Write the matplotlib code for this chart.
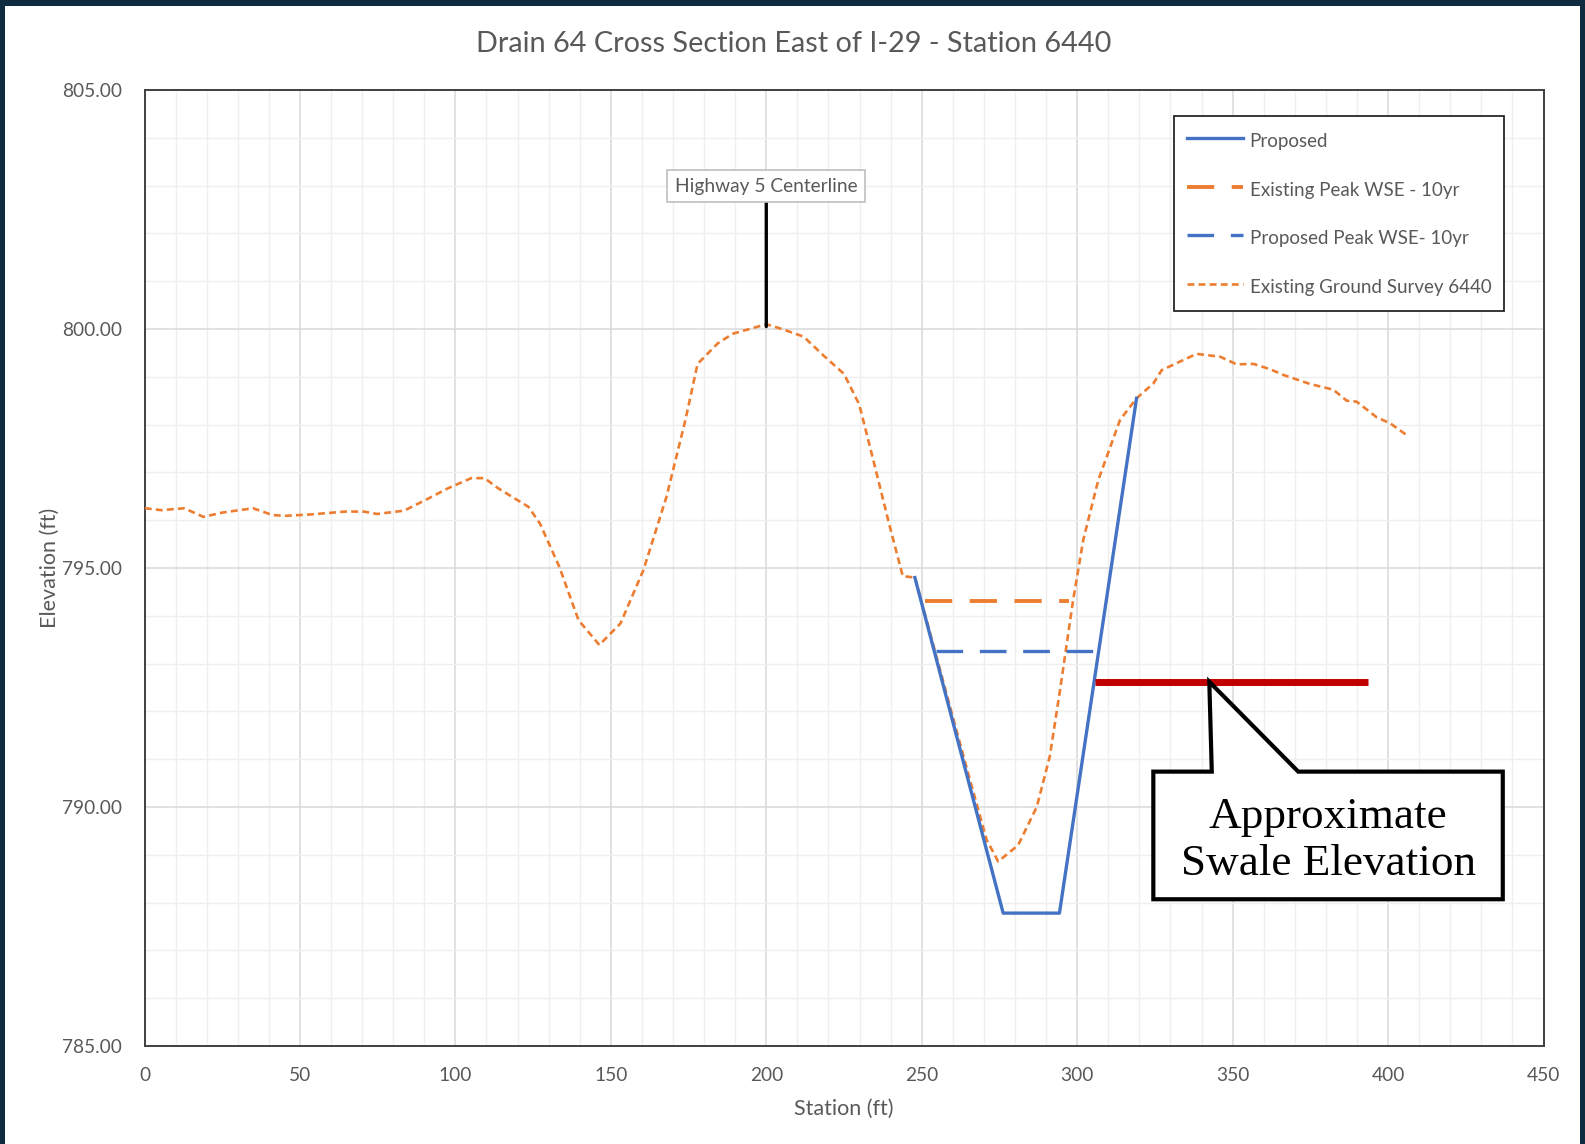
import matplotlib
matplotlib.use("Agg")
import matplotlib.pyplot as plt
from matplotlib.patches import Polygon, Rectangle
from matplotlib.ticker import MultipleLocator, FormatStrFormatter

# ---------------- data ----------------
ground_x = [0.1, 5.4, 12.8, 18.9, 25.1, 34.9, 41.1, 44.8, 53.4, 64.5, 70.6, 74.9, 83.5,
            90.3, 97.7, 105.1, 109.4, 113.7, 123.5, 127.2, 133.4, 139.6, 146.3, 153.1,
            160.5, 167.9, 174.0, 177.9, 184.4, 189.2, 200.0, 205.5, 212.0, 218.5, 225.0,
            229.9, 234.8, 239.6, 243.9, 247.8, 251.6, 259.1, 265.5, 270.9, 274.6, 281.0,
            287.0, 291.2, 294.5, 298.7, 302.0, 306.8, 313.8, 319.1, 324.5, 327.2, 338.4,
            346.0, 351.3, 356.7, 362.0, 366.3, 374.9, 382.4, 386.7, 389.9, 396.4, 400.6, 406.0]
ground_y = [796.25, 796.21, 796.25, 796.07, 796.16, 796.25, 796.11, 796.09, 796.12, 796.18,
            796.18, 796.13, 796.20, 796.42, 796.67, 796.88, 796.88, 796.67, 796.28, 795.93,
            795.03, 793.91, 793.39, 793.84, 794.96, 796.49, 798.10, 799.27, 799.70, 799.90,
            800.10, 799.99, 799.84, 799.44, 799.06, 798.42, 797.16, 795.90, 794.83, 794.80,
            793.90, 792.10, 790.57, 789.31, 788.86, 789.20, 790.00, 791.06, 792.45, 794.33,
            795.60, 796.84, 798.10, 798.55, 798.86, 799.14, 799.48, 799.42, 799.26, 799.27,
            799.16, 799.04, 798.85, 798.73, 798.50, 798.48, 798.15, 798.03, 797.78]

proposed_x = [247.8, 276.2, 294.3, 319.1]
proposed_y = [794.80, 787.78, 787.78, 798.55]

exist_wse_x = [251.0, 297.5]
exist_wse_y = [794.32, 794.32]

prop_wse_x = [254.6, 308.5]
prop_wse_y = [793.27, 793.27]

swale_x = [305.7, 393.6]
swale_y = [792.62, 792.62]

highway_x = 200.0
highway_ground = 800.05

labels = ["Proposed", "Existing Peak WSE - 10yr", "Proposed Peak WSE- 10yr",
          "Existing Ground Survey 6440"]
title = "Drain 64 Cross Section East of I-29 - Station 6440"

# ---------------- style ----------------
FONT = "Lato"
GRAY = "#595959"
BLUE = "#4472c4"
ORANGE = "#ed7d31"

W, H = 1585, 1144
fig = plt.figure(figsize=(W / 100, H / 100), dpi=100)
fig.patch.set_facecolor("white")

# dark frame around the slide image
frame_col = "#0f2b40"
fig.add_artist(Rectangle((0, 1 - 6 / H), 1, 6 / H, transform=fig.transFigure,
                         facecolor=frame_col, edgecolor="none"))
fig.add_artist(Rectangle((0, 0), 5 / W, 1, transform=fig.transFigure,
                         facecolor=frame_col, edgecolor="none"))
fig.add_artist(Rectangle((1 - 5 / W, 0), 5 / W, 1, transform=fig.transFigure,
                         facecolor=frame_col, edgecolor="none"))

ax = fig.add_axes([144.5 / W, 1 - 1046 / H, 1399 / W, 956 / H])

ax.set_xlim(0, 450)
ax.set_ylim(785, 805)
ax.xaxis.set_major_locator(MultipleLocator(50))
ax.xaxis.set_minor_locator(MultipleLocator(10))
ax.yaxis.set_major_locator(MultipleLocator(5))
ax.yaxis.set_minor_locator(MultipleLocator(1))
ax.yaxis.set_major_formatter(FormatStrFormatter("%.2f"))
ax.grid(which="major", color="#d9d9d9", linewidth=1.1)
ax.grid(which="minor", color="#efefef", linewidth=1.0)
ax.set_axisbelow(True)
ax.tick_params(which="both", length=0, colors=GRAY, labelsize=13.8)
ax.tick_params(axis="y", pad=16)
ax.tick_params(axis="x", pad=15)
for lab in ax.get_xticklabels() + ax.get_yticklabels():
    lab.set_fontfamily(FONT)
for sp in ax.spines.values():
    sp.set_color("#404040")
    sp.set_linewidth(1.4)

ax.set_xlabel("Station (ft)", fontsize=15.5, color=GRAY, family=FONT, labelpad=11)
ax.set_ylabel("Elevation (ft)", fontsize=15.5, color=GRAY, family=FONT, labelpad=2)
fig.text(793.5 / W, 1 - 44 / H, title, ha="center", va="center", fontsize=20.8,
         color=GRAY, family=FONT)

# ---------------- series ----------------
l1, = ax.plot(proposed_x, proposed_y, color=BLUE, lw=2.4, zorder=4)
l2, = ax.plot(exist_wse_x, exist_wse_y, color=ORANGE, lw=2.8, dashes=(7, 4.5), zorder=4)
l3, = ax.plot(prop_wse_x, prop_wse_y, color=BLUE, lw=2.4, dashes=(8, 5), zorder=4)
l4, = ax.plot(ground_x, ground_y, color=ORANGE, lw=1.9, dashes=(2.6, 1.6), zorder=3)

ax.plot(swale_x, swale_y, color="#c00000", lw=5, solid_capstyle="butt", zorder=5)

leg = ax.legend([l1, l2, l3, l4], labels, loc="upper right",
                bbox_to_anchor=(0.972, 0.9726), fancybox=False, framealpha=1,
                edgecolor="#262626", labelspacing=1.38, handleheight=1.5,
                handlelength=3.0, handletextpad=0.33, borderpad=0.69,
                borderaxespad=0, prop={"family": FONT, "size": 13.5})
leg.get_frame().set_linewidth(1.3)
for t in leg.get_texts():
    t.set_color(GRAY)

# highway centerline label
ax.annotate("Highway 5 Centerline", xy=(highway_x, highway_ground),
            xytext=(highway_x, 802.99), ha="center", va="center", fontsize=13.8,
            color=GRAY, family=FONT,
            bbox=dict(boxstyle="square,pad=0.4", facecolor="white", edgecolor="#bfbfbf", lw=1.2),
            arrowprops=dict(arrowstyle="-", color="black", lw=2.4, shrinkA=0, shrinkB=0),
            zorder=6)

# callout
callout = Polygon([(324.5, 790.74), (343.3, 790.74), (342.5, 792.62), (371.1, 790.74),
                   (436.9, 790.74), (436.9, 788.07), (324.5, 788.07)], closed=True,
                  facecolor="white", edgecolor="black", lw=3, joinstyle="miter", zorder=7)
ax.add_patch(callout)
ax.text(380.7, 789.3, "Approximate\nSwale Elevation", ha="center", va="center",
        fontsize=32.5, family="Liberation Serif", color="black", linespacing=1.22, zorder=8)

fig.savefig("out.png", dpi=100)
